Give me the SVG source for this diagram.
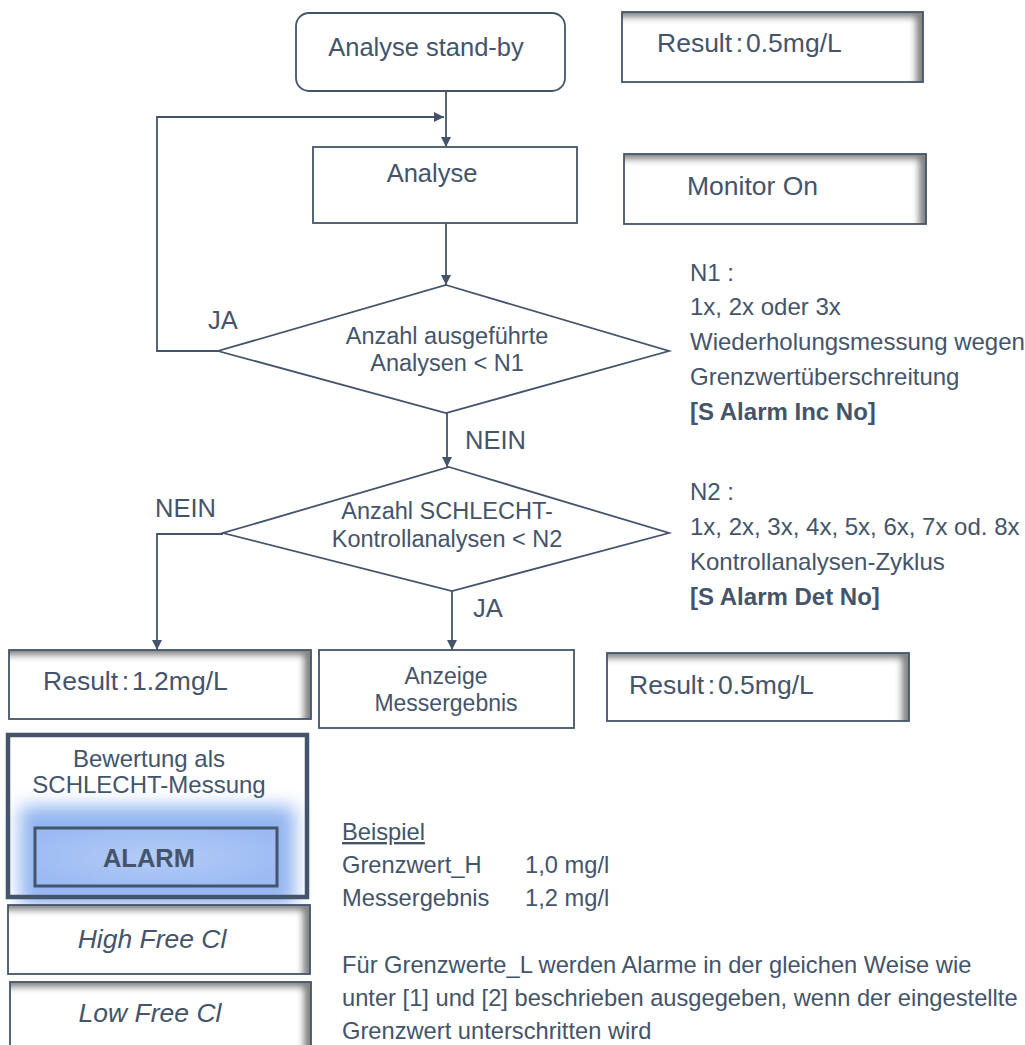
<svg xmlns="http://www.w3.org/2000/svg" width="1025" height="1045" viewBox="0 0 1025 1045">
<style>
.t{font-family:"Liberation Sans",Arial,sans-serif;fill:#44546A;}
.n{font-size:25.5px;}
.d{font-size:23.5px;}
.s{font-size:24px;}
.b{font-size:23.7px;}
.r{font-size:26.5px;}
.c{text-anchor:middle;}
.ln{fill:none;stroke:#44546A;stroke-width:1.8;}
.bx{fill:#fff;stroke:#44546A;stroke-width:1.8;}
.sh{fill:#fff;filter:url(#inner);}
.fr{fill:none;stroke:#44546A;stroke-width:1.8;}
</style>
<defs>
<marker id="ar" viewBox="0 0 10 10" refX="10" refY="5" markerWidth="10" markerHeight="10" markerUnits="userSpaceOnUse" orient="auto">
<path d="M0,0 L10,5 L0,10 z" fill="#44546A"/>
</marker>
<filter id="inner" x="-20%" y="-50%" width="140%" height="200%">
<feComponentTransfer in="SourceAlpha" result="inv"><feFuncA type="table" tableValues="1 0"/></feComponentTransfer>
<feOffset in="inv" dx="-8" dy="6" result="off"/>
<feGaussianBlur in="off" stdDeviation="3" result="blur"/>
<feComposite in="blur" in2="SourceAlpha" operator="in" result="clip"/>
<feFlood flood-color="#3a3a3a" flood-opacity="0.8"/>
<feComposite in2="clip" operator="in" result="shadow"/>
<feMerge><feMergeNode in="SourceGraphic"/><feMergeNode in="shadow"/></feMerge>
</filter>
<filter id="glow" x="-30%" y="-60%" width="160%" height="220%">
<feGaussianBlur stdDeviation="9"/>
</filter>
<radialGradient id="alarmfill" cx="50%" cy="50%" r="60%">
<stop offset="0" stop-color="#B3CBF6"/>
<stop offset="1" stop-color="#9BBAF3"/>
</radialGradient>
</defs>

<g id="connectors">
<path class="ln" d="M446,91 L446,147" marker-end="url(#ar)"/>
<path class="ln" d="M218,351 L157,351 L157,117 L444,117" marker-end="url(#ar)"/>
<path class="ln" d="M446,223 L446,285" marker-end="url(#ar)"/>
<path class="ln" d="M447,413 L447,467" marker-end="url(#ar)"/>
<path class="ln" d="M223,534 L157,534 L157,650" marker-end="url(#ar)"/>
<path class="ln" d="M452,591 L452,650" marker-end="url(#ar)"/>
<text class="t n" x="208" y="329">JA</text>
<text class="t n" x="465" y="449">NEIN</text>
<text class="t n" x="155" y="517">NEIN</text>
<text class="t n" x="473" y="617">JA</text>
</g>

<g id="standby">
<rect class="bx" x="296" y="13" width="269" height="78" rx="13"/>
<text class="t n c" x="426" y="56">Analyse stand-by</text>
</g>

<g id="result-top">
<rect class="sh" x="622" y="12" width="301" height="70"/>
<rect class="fr" x="622" y="12" width="301" height="70"/>
<text class="t r" x="657" y="52">Result<tspan dx="3.5">:</tspan><tspan dx="3">0.5mg/L</tspan></text>
</g>

<g id="analyse">
<rect class="bx" x="313" y="147" width="264" height="76"/>
<text class="t n c" x="432" y="182">Analyse</text>
</g>

<g id="monitor">
<rect class="sh" x="624" y="154" width="302" height="70"/>
<rect class="fr" x="624" y="154" width="302" height="70"/>
<text class="t r" x="687" y="195">Monitor On</text>
</g>

<g id="decision1">
<polygon class="bx" points="446,285 669,351 446,413 218,351"/>
<text class="t d c" x="447" y="344">Anzahl ausgeführte</text>
<text class="t d c" x="447" y="371">Analysen &lt; N1</text>
</g>

<g id="note1">
<text class="t s" x="690" y="281">N1 :</text>
<text class="t s" x="690" y="315">1x, 2x oder 3x</text>
<text class="t s" x="690" y="350">Wiederholungsmessung wegen</text>
<text class="t s" x="690" y="385">Grenzwertüberschreitung</text>
<text class="t s" x="690" y="420" font-weight="bold">[S Alarm Inc No]</text>
</g>

<g id="decision2">
<polygon class="bx" points="449,467 669,533 452,591 223,533"/>
<text class="t d c" x="447" y="519">Anzahl SCHLECHT-</text>
<text class="t d c" x="447" y="547">Kontrollanalysen &lt; N2</text>
</g>

<g id="note2">
<text class="t s" x="690" y="500">N2 :</text>
<text class="t s" x="690" y="535">1x, 2x, 3x, 4x, 5x, 6x, 7x od. 8x</text>
<text class="t s" x="690" y="570">Kontrollanalysen-Zyklus</text>
<text class="t s" x="690" y="605" font-weight="bold">[S Alarm Det No]</text>
</g>

<g id="result-12">
<rect class="sh" x="9" y="650" width="302" height="69"/>
<rect class="fr" x="9" y="650" width="302" height="69"/>
<text class="t r" x="43" y="690">Result<tspan dx="3.5">:</tspan><tspan dx="3">1.2mg/L</tspan></text>
</g>

<g id="anzeige">
<rect class="bx" x="319" y="650" width="255" height="78"/>
<text class="t c" font-size="23" x="446" y="684">Anzeige</text>
<text class="t c" font-size="23" x="446" y="711">Messergebnis</text>
</g>

<g id="result-05b">
<rect class="sh" x="607" y="653" width="302" height="68"/>
<rect class="fr" x="607" y="653" width="302" height="68"/>
<text class="t r" x="629" y="694">Result<tspan dx="3.5">:</tspan><tspan dx="3">0.5mg/L</tspan></text>
</g>

<g id="bewertung">
<rect x="8" y="735" width="299" height="162" fill="#fff"/>
<rect x="20" y="806" width="275" height="100" fill="#80A8EE" filter="url(#glow)" opacity="0.85"/>
<rect x="35" y="828" width="242" height="58" fill="url(#alarmfill)" stroke="#44546A" stroke-width="3"/>
<rect x="8" y="735" width="299" height="162" fill="none" stroke="#44546A" stroke-width="4.5"/>
<text class="t c" font-size="24" x="149" y="767">Bewertung als</text>
<text class="t c" font-size="24" x="149" y="793">SCHLECHT-Messung</text>
<text class="t n c" x="149" y="867" font-weight="bold">ALARM</text>
</g>

<g id="high">
<rect class="sh" x="8" y="905" width="302" height="69"/>
<rect class="fr" x="8" y="905" width="302" height="69"/>
<text class="t r c" x="152" y="948" font-style="italic">High Free Cl</text>
</g>

<g id="low">
<rect class="sh" x="10" y="982" width="301" height="75"/>
<rect class="fr" x="10" y="982" width="301" height="75"/>
<text class="t r c" x="150" y="1022" font-style="italic">Low Free Cl</text>
</g>

<g id="example">
<text class="t b" x="342" y="840" text-decoration="underline">Beispiel</text>
<text class="t b" x="342" y="873">Grenzwert_H</text>
<text class="t b" x="525" y="873">1,0 mg/l</text>
<text class="t b" x="342" y="906">Messergebnis</text>
<text class="t b" x="525" y="906">1,2 mg/l</text>
<text class="t b" x="342" y="973">Für Grenzwerte_L werden Alarme in der gleichen Weise wie</text>
<text class="t b" x="342" y="1006">unter [1] und [2] beschrieben ausgegeben, wenn der eingestellte</text>
<text class="t b" x="342" y="1039">Grenzwert unterschritten wird</text>
</g>
</svg>
